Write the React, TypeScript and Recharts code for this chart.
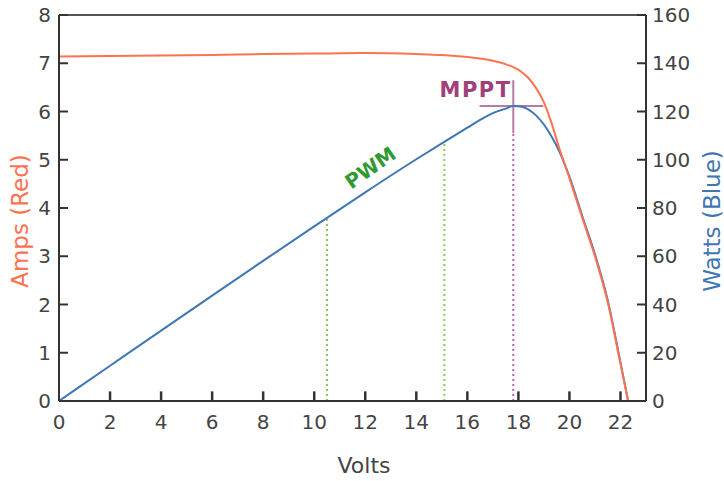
import React from 'react';
import { ComposedChart, Line, XAxis, YAxis, ReferenceLine, ReferenceDot } from 'recharts';

const volts = [0, 2, 4, 6, 8, 10, 12, 14, 15, 16, 16.5, 17, 17.5, 17.8, 18.1, 18.4, 18.7, 19, 19.3, 19.6, 20, 20.5, 21, 21.5, 22, 22.3];
const amps = [7.14, 7.15, 7.16, 7.17, 7.19, 7.2, 7.21, 7.19, 7.17, 7.13, 7.1, 7.05, 6.98, 6.92, 6.83, 6.69, 6.48, 6.19, 5.76, 5.24, 4.62, 3.8, 3.0, 2.05, 0.77, 0];
const watts = [0, 14.6, 29.2, 43.7, 58.1, 72.4, 86.5, 100.2, 106.8, 113.3, 116.5, 119.3, 121.2, 122.3, 122.1, 120.8, 118.3, 114.6, 109.6, 103.5, 93, 76.8, 60.8, 41.8, 16, 0];

const voltTicks = [0, 2, 4, 6, 8, 10, 12, 14, 16, 18, 20, 22];
const ampTicks = [0, 1, 2, 3, 4, 5, 6, 7, 8];
const wattTicks = [0, 20, 40, 60, 80, 100, 120, 140, 160];

// annotation positions (volts, watts)
const pwmVolts = [10.5, 15.1];
const pwmWatts = [76, 106.5];
const mppVolts = 17.8;
const mppWatts = 122.3;

const data = volts.map((v, i) => ({ volts: v, amps: amps[i], watts: watts[i] }));

const W = 724;
const H = 481;
const PLOT = { left: 59, right: 646, top: 15, bottom: 401 };
const X_MAX = 23;
const AMP_MAX = 8;
const WATT_MAX = 160;

const RED = '#ff7150';
const BLUE = '#3f77b3';
const AXIS = '#333';
const TICK_TEXT = '#444';
const FONT = 'DejaVu Sans, sans-serif';
const MARGIN = 10;
const TICK_LEN = 9;
const AMP_TICK = 0.2; // ~9px in amps

const BottomTick = (p: any) => (
  <text x={p.x} y={p.y - MARGIN + 28} textAnchor="middle" fill={TICK_TEXT} fontSize={20} fontFamily={FONT}>
    {p.payload.value}
  </text>
);

const LeftTick = (p: any) => (
  <g>
    <rect x={p.x + MARGIN} y={p.y - 1} width={TICK_LEN} height={2} fill={AXIS} />
    <text x={p.x + MARGIN - 8} y={p.y} dy="0.36em" textAnchor="end" fill={TICK_TEXT} fontSize={20} fontFamily={FONT}>
      {p.payload.value}
    </text>
  </g>
);

const RightTick = (p: any) => (
  <g>
    <rect x={p.x - MARGIN - TICK_LEN} y={p.y - 1} width={TICK_LEN} height={2} fill={AXIS} />
    <text x={p.x - MARGIN + 6} y={p.y} dy="0.36em" textAnchor="start" fill={TICK_TEXT} fontSize={20} fontFamily={FONT}>
      {p.payload.value}
    </text>
  </g>
);

export default function App() {
  return (
    <div style={{ position: 'absolute', left: 0, top: 0, width: W, height: H, background: '#fff', fontFamily: FONT }}>
      <ComposedChart width={W} height={H} data={data} margin={{ top: PLOT.top, right: 0, bottom: 0, left: 0 }}>
        <XAxis
          dataKey="volts"
          type="number"
          domain={[0, X_MAX]}
          ticks={voltTicks}
          allowDataOverflow
          height={H - PLOT.bottom}
          stroke={AXIS}
          strokeWidth={2}
          tickLine={false}
          tickSize={0}
          tickMargin={MARGIN}
          tick={<BottomTick />}
          label={{
            content: () => (
              <text x={364} y={473} textAnchor="middle" fill={TICK_TEXT} fontSize={22} fontFamily={FONT}>
                Volts
              </text>
            ),
          }}
        />
        <YAxis
          yAxisId="left"
          domain={[0, AMP_MAX]}
          ticks={ampTicks}
          width={PLOT.left}
          stroke={AXIS}
          strokeWidth={2}
          tickLine={false}
          tickSize={0}
          tickMargin={MARGIN}
          tick={<LeftTick />}
          label={{
            content: () => (
              <text
                x={28}
                y={221}
                transform="rotate(-90 28 221)"
                textAnchor="middle"
                fill={RED}
                fontSize={23}
                fontFamily={FONT}
              >
                Amps (Red)
              </text>
            ),
          }}
        />
        <YAxis
          yAxisId="right"
          orientation="right"
          domain={[0, WATT_MAX]}
          ticks={wattTicks}
          width={W - PLOT.right}
          stroke={AXIS}
          strokeWidth={2}
          tickLine={false}
          tickSize={0}
          tickMargin={MARGIN}
          tick={<RightTick />}
          label={{
            content: () => (
              <text
                x={720}
                y={221}
                transform="rotate(-90 720 221)"
                textAnchor="middle"
                fill={BLUE}
                fontSize={23}
                fontFamily={FONT}
              >
                Watts (Blue)
              </text>
            ),
          }}
        />
        <ReferenceLine yAxisId="left" y={AMP_MAX} stroke="#555" strokeWidth={2} />

        {/* inward volt ticks */}
        {voltTicks.slice(1).map((v) => (
          <ReferenceLine
            key={`bt${v}`}
            yAxisId="left"
            ifOverflow="visible"
            segment={[{ x: v, y: 0 }, { x: v, y: AMP_TICK }]}
            stroke={AXIS}
            strokeWidth={2.5}
          />
        ))}

        {pwmVolts.map((v, i) => (
          <ReferenceLine
            key={v}
            yAxisId="right"
            segment={[{ x: v, y: 0 }, { x: v, y: pwmWatts[i] }]}
            stroke="#8cc85a"
            strokeWidth={2}
            strokeDasharray="2 3"
          />
        ))}
        <ReferenceLine
          yAxisId="right"
          segment={[{ x: mppVolts, y: 0 }, { x: mppVolts, y: 111 }]}
          stroke="#c464a8"
          strokeWidth={2}
          strokeDasharray="2 3"
        />
        <ReferenceLine
          yAxisId="right"
          segment={[{ x: mppVolts, y: 111 }, { x: mppVolts, y: 133 }]}
          stroke="#b77aa6"
          strokeWidth={2}
        />
        <ReferenceLine
          yAxisId="right"
          segment={[{ x: 16.48, y: mppWatts }, { x: 18.98, y: mppWatts }]}
          stroke="#b77aa6"
          strokeWidth={2}
        />

        <Line
          yAxisId="right"
          type="monotone"
          dataKey="watts"
          stroke={BLUE}
          strokeWidth={2}
          dot={false}
          isAnimationActive={false}
        />
        <Line
          yAxisId="left"
          type="monotone"
          dataKey="amps"
          stroke={RED}
          strokeWidth={2}
          dot={false}
          isAnimationActive={false}
        />

        <ReferenceDot
          yAxisId="right"
          x={12.2}
          y={96.7}
          r={0}
          fill="none"
          stroke="none"
          label={{
            content: (p: any) => {
              const { x, y } = p.viewBox;
              return (
                <text
                  x={x}
                  y={y}
                  transform={`rotate(-35 ${x} ${y})`}
                  textAnchor="middle"
                  dominantBaseline="central"
                  fill="#2f9a32"
                  fontSize={20}
                  fontWeight="bold"
                  fontFamily={FONT}
                >
                  PWM
                </text>
              );
            },
          }}
        />
        <ReferenceDot
          yAxisId="right"
          x={16.32}
          y={129}
          r={0}
          fill="none"
          stroke="none"
          label={{
            content: (p: any) => {
              const { x, y } = p.viewBox;
              return (
                <text
                  x={x}
                  y={y}
                  textAnchor="middle"
                  dominantBaseline="central"
                  fill="#a03f7b"
                  fontSize={21}
                  fontWeight="bold"
                  letterSpacing={1.5}
                  fontFamily={FONT}
                >
                  MPPT
                </text>
              );
            },
          }}
        />
      </ComposedChart>
    </div>
  );
}
